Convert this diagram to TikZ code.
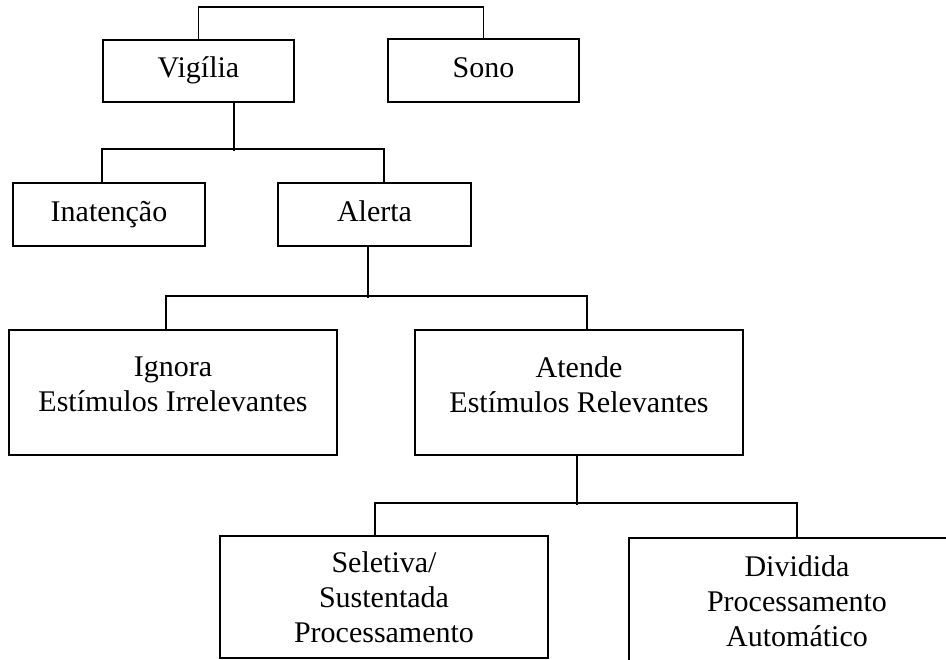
\documentclass[tikz,border=0pt]{standalone}
\usepackage{fontspec}
\setmainfont{Liberation Serif}
\usepackage{tikz}
\usetikzlibrary{positioning}

\begin{document}
\begin{tikzpicture}[x=1pt, y=-1pt,
    caixa/.style={draw, line width=1.8pt, inner sep=0pt, align=center,
      font=\fontsize{30}{35}\selectfont},
    simples/.style={caixa, text height=21pt, text depth=7pt},
    liga/.style={line width=1.8pt}]
  \useasboundingbox (0,0) rectangle (946,660);

  \node[simples, minimum width=191pt, minimum height=62pt] (vigilia) at (198.5,71) {Vigília};
  \node[simples, minimum width=191pt, minimum height=63pt] (sono) at (483.5,70.5) {Sono};
  \node[simples, minimum width=192pt, minimum height=63pt] (inatencao) at (109,214.5) {Inatenção};
  \node[simples, minimum width=193pt, minimum height=63pt] (alerta) at (374.5,214.5) {Alerta};
  \node[caixa, text depth=16pt, minimum width=328pt, minimum height=125pt] (ignora) at (173,392.5)
    {Ignora\\Estímulos Irrelevantes};
  \node[caixa, text depth=16pt, minimum width=328pt, minimum height=125pt] (atende) at (579,392.5)
    {Atende\\Estímulos Relevantes};
  \node[caixa, minimum width=328pt, minimum height=122pt] (seletiva) at (384,597)
    {Seletiva/\\Sustentada\\Processamento};
  \node[caixa, minimum width=336pt, minimum height=126pt] (dividida) at (797,601)
    {Dividida\\Processamento\\Automático};

  \draw[liga] (vigilia.north) -- ++(0,-32) -| (sono.north);
  \draw[liga] ([xshift=35.5pt]vigilia.south) -- ++(0,48);
  \draw[liga] ([xshift=-7pt]inatencao.north) -- ++(0,-33) -| ([xshift=9.5pt]alerta.north);
  \draw[liga] ([xshift=-6.5pt]alerta.south) -- ++(0,51);
  \draw[liga] ([xshift=-7pt]ignora.north) -- ++(0,-33) -| ([xshift=8pt]atende.north);
  \draw[liga] ([xshift=-2pt]atende.south) -- ++(0,49);
  \draw[liga] ([xshift=-9pt]seletiva.north) -- ++(0,-32) -| (dividida.north);
\end{tikzpicture}
\end{document}
